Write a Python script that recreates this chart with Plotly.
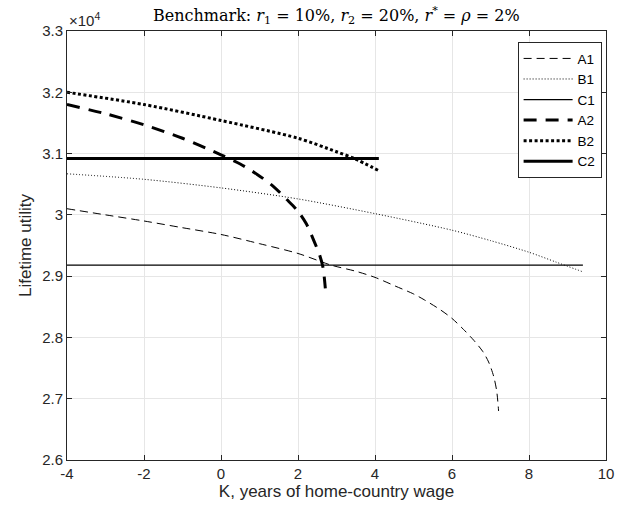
import plotly.graph_objects as go

# Lifetime utility (in units of 10^4) against K, years of home-country wage
A1_x = [-4, -3, -2, -1, 0, 1, 2, 2.86, 3.5, 4.0, 4.52, 5.0, 5.29, 5.7, 6.0, 6.3, 6.57,
        6.8, 6.95, 7.08, 7.16, 7.21]
A1_y = [3.010, 3.000, 2.990, 2.979, 2.968, 2.953, 2.937, 2.918, 2.908, 2.898, 2.884,
        2.871, 2.861, 2.845, 2.831, 2.813, 2.795, 2.777, 2.760, 2.737, 2.713, 2.680]

B1_x = [-4, -2, 0, 2, 4, 6, 7, 8, 8.7, 9.4]
B1_y = [3.067, 3.058, 3.044, 3.026, 3.002, 2.975, 2.958, 2.939, 2.923, 2.907]

C1_x = [-4, 9.4]
C1_y = [2.918, 2.918]

A2_x = [-4, -3, -2, -1, 0, 0.5, 0.94, 1.35, 1.71, 2.0, 2.22, 2.43, 2.56, 2.65, 2.71]
A2_y = [3.180, 3.165, 3.147, 3.125, 3.098, 3.083, 3.066, 3.047, 3.025, 3.006, 2.985,
        2.955, 2.935, 2.914, 2.880]

B2_x = [-4, -2, 0, 2, 3, 3.46, 4.1]
B2_y = [3.200, 3.180, 3.154, 3.125, 3.103, 3.092, 3.072]

C2_x = [-4, 4.1]
C2_y = [3.092, 3.092]

x_ticks = [-4, -2, 0, 2, 4, 6, 8, 10]
x_tick_labels = ["-4", "-2", "0", "2", "4", "6", "8", "10"]
y_ticks = [2.6, 2.7, 2.8, 2.9, 3.0, 3.1, 3.2, 3.3]
y_tick_labels = ["2.6", "2.7", "2.8", "2.9", "3", "3.1", "3.2", "3.3"]

series = [
    ("A1", A1_x, A1_y, 1.0, "8px,5px"),
    ("B1", B1_x, B1_y, 1.0, "1px,2px"),
    ("C1", C1_x, C1_y, 1.2, "solid"),
    ("A2", A2_x, A2_y, 3.0, "13px,9px"),
    ("B2", B2_x, B2_y, 3.0, "3px,2.5px"),
    ("C2", C2_x, C2_y, 3.0, "solid"),
]

fig = go.Figure()
for name, xs, ys, w, dash in series:
    fig.add_trace(go.Scatter(
        x=xs, y=ys, mode="lines", name=name,
        line=dict(color="black", width=w, dash=dash, shape="spline", smoothing=0.8),
    ))

axis_color = "#262626"
grid_color = "#e6e6e6"
sans = "Liberation Sans, Arial, sans-serif"
tick_font = dict(family=sans, size=15, color=axis_color)

fig.update_layout(
    width=625, height=520,
    margin=dict(l=67, r=11, t=31, b=60),
    paper_bgcolor="white", plot_bgcolor="white",
    font=dict(family=sans, color=axis_color),
    showlegend=True,
    legend=dict(
        x=0.836, y=0.974, xanchor="left", yanchor="top",
        bgcolor="white", bordercolor=axis_color, borderwidth=1,
        font=dict(family=sans, size=13.5, color="black"),
        itemwidth=49, tracegroupgap=0,
    ),
    xaxis=dict(
        range=[-4, 10], tickvals=x_ticks, ticktext=x_tick_labels,
        showgrid=True, gridcolor=grid_color, gridwidth=1,
        zeroline=False, showline=True, linecolor=axis_color, linewidth=1,
        mirror="ticks", ticks="inside", ticklen=5, tickcolor=axis_color,
        tickfont=tick_font,
        title=dict(text="K, years of home-country wage",
                   font=dict(family=sans, size=17, color=axis_color), standoff=4),
    ),
    yaxis=dict(
        range=[2.6, 3.3], tickvals=y_ticks, ticktext=y_tick_labels,
        showgrid=True, gridcolor=grid_color, gridwidth=1,
        zeroline=False, showline=True, linecolor=axis_color, linewidth=1,
        mirror="ticks", ticks="inside", ticklen=5, tickcolor=axis_color,
        tickfont=tick_font,
        title=dict(text="Lifetime utility",
                   font=dict(family=sans, size=17, color=axis_color), standoff=6),
    ),
)

fig.add_annotation(
    text="Benchmark: <i>r</i><sub>1</sub> = 10%, <i>r</i><sub>2</sub> = 20%, "
         "<i>r</i><sup>*</sup> = <i>ρ</i> = 2%",
    xref="paper", yref="paper", x=0.5, y=1, xanchor="center", yanchor="bottom",
    yshift=2, showarrow=False,
    font=dict(family="DejaVu Serif, Liberation Serif, serif", size=16, color="black"),
)
fig.add_annotation(
    text="×10<sup>4</sup>",
    xref="paper", yref="paper", x=0, y=1, xanchor="left", yanchor="bottom",
    yshift=0, showarrow=False,
    font=dict(family=sans, size=15, color=axis_color),
)

fig.write_html("out.html")
